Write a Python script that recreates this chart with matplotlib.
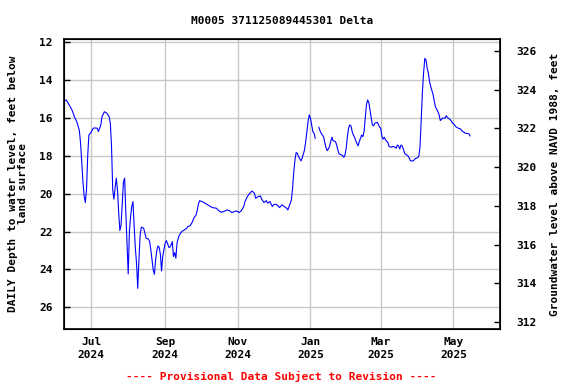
import matplotlib
matplotlib.use("Agg")
import matplotlib.pyplot as plt
import matplotlib.dates as mdates
import numpy as np
import pandas as pd

# ---- data ----
start_date = "2024-07-01"
day_offset = [
    -22, -21, -19, -18, -16, -14, -12, -10, -9, -8, -7, -6, -5, -4, -3, -2,
    0, 1, 2, 5, 6, 8, 9, 11, 13, 15, 16, 17, 18, 19, 20, 21, 22, 23, 24, 25,
    26, 27, 28, 29, 30, 31, 32, 33, 34, 35, 36, 37, 38, 39, 40, 41, 42, 44,
    45, 46, 48, 49, 50, 51, 52, 53, 54, 55, 56, 57, 58, 59, 60, 61, 62, 63,
    64, 65, 66, 67, 68, 69, 70, 71, 72, 73, 74, 76, 78, 80, 81, 83, 85, 86,
    88, 89, 90, 91, 93, 94, 97, 100, 102, 105, 107, 109, 111, 114, 116, 118,
    120, 122, 124, 126, 128, 129, 131, 133, 135, 137, 138, 140, 142, 143, 145,
    147, 148, 150, 152, 153, 155, 157, 158, 160, 162, 164, 165, 166, 168, 169,
    170, 171, 172, 173, 174, 176, 177, 179, 180, 181, 182, 183, 184, 185, 186,
    187, 188, 189, 191, 192, 193, 195, 196, 197, 198, 199, 200, 201, 202, 203,
    205, 206, 207, 208, 210, 211, 212, 213, 214, 215, 216, 217, 218, 219, 220,
    221, 222, 223, 224, 225, 226, 227, 228, 229, 230, 231, 232, 233, 234, 235,
    236, 237, 238, 240, 241, 242, 243, 244, 245, 246, 247, 249, 250, 252, 253,
    254, 256, 257, 258, 259, 260, 261, 262, 263, 264, 266, 267, 268, 270, 271,
    272, 274, 275, 276, 277, 278, 279, 280, 281, 282, 283, 284, 285, 286, 287,
    288, 289, 290, 291, 292, 293, 294, 295, 297, 298, 299, 301, 302, 303, 305,
    306, 308, 310, 311, 312, 314, 315, 317, 318,
]
depth_ft = [
    15.08, 15.05, 15.26, 15.37, 15.61, 15.96, 16.23, 16.67, 17.34, 18.31, 19.36, 20.12, 20.47, 19.80, 18.00, 16.90,
    16.75, 16.60, 16.53, 16.54, 16.72, 16.37, 15.93, 15.67, 15.75, 15.93, 16.28, 17.50, 19.80, 20.29, 19.70, 19.18, 19.80, 21.00, 21.95, 21.65,
    20.50, 19.40, 19.18, 21.00, 22.62, 24.24, 22.00, 21.21, 20.68, 20.42, 21.74, 22.88, 23.67, 25.00, 23.50, 22.20, 21.77, 21.83,
    22.09, 22.35, 22.40, 22.53, 22.97, 23.50, 24.03, 24.26, 23.50, 23.01, 22.76, 22.83, 23.20, 24.08, 23.30, 22.97, 22.62, 22.48,
    22.62, 22.83, 22.83, 22.71, 22.53, 23.32, 23.11, 23.41, 22.60, 22.35, 22.18, 22.00, 21.92, 21.83, 21.74, 21.70, 21.48, 21.30,
    21.12, 20.86, 20.54, 20.37, 20.42, 20.45, 20.56, 20.68, 20.74, 20.77, 20.90, 20.98, 20.95, 20.86, 20.90, 21.00,
    20.95, 20.91, 21.00, 20.90, 20.68, 20.42, 20.16, 19.98, 19.86, 19.98, 20.24, 20.16, 20.12, 20.29, 20.47,
    20.37, 20.50, 20.42, 20.68, 20.59, 20.56, 20.65, 20.74, 20.59, 20.68, 20.77, 20.86, 20.68, 20.33, 19.71,
    18.84, 18.22, 17.83, 17.87, 18.04, 18.27, 18.13, 17.69, 17.25, 16.72, 16.19, 15.84, 16.01, 16.37, 16.72,
    16.81, 17.07, np.nan, 16.49, 16.67, 16.81, 16.99, 17.30, 17.55, 17.73, 17.64, 17.51, 17.25, 17.02, 17.20,
    17.25, 17.43, 17.69, 17.90, 17.95, 17.99, 18.08, 17.95, 17.60, 16.99, 16.54, 16.37, 16.42, 16.72, 16.90,
    17.02, 17.20, 17.34, 17.48, 17.25, 17.07, 16.90, 16.99, 16.72, 16.01, 15.31, 15.05, 15.19, 15.58, 16.01,
    16.37, 16.42, 16.28, 16.23, 16.33, 16.49, 16.54, 16.99, 17.12, 17.02, 17.16, 17.30, 17.51, 17.55, 17.51,
    17.51, 17.60, 17.43, 17.48, 17.64, 17.43, 17.48, 17.65, 17.86, 17.92, 18.01, 18.13, 18.27, 18.27, 18.22,
    18.15, 18.10, 18.01, 17.51, 16.00, 14.61, 13.60, 12.85, 12.94, 13.37, 13.64, 14.08, 14.35, 14.56, 14.78,
    15.14, 15.43, 15.54, 15.67, 15.84, 16.14, 16.07, 16.01, 16.01, 15.88, 15.98, 16.07, 16.14, 16.25, 16.37,
    16.46, 16.54, 16.58, 16.67, 16.72, 16.81, 16.81, 16.84, 16.95,
]
month_ticks = ["2024-07-01", "2024-09-01", "2024-11-01", "2025-01-01", "2025-03-01", "2025-05-01"]
month_labels = ["Jul\n2024", "Sep\n2024", "Nov\n2024", "Jan\n2025", "Mar\n2025", "May\n2025"]
left_ticks = [12, 14, 16, 18, 20, 22, 24, 26]
right_ticks = [312, 314, 316, 318, 320, 322, 324, 326]

title = "M0005 371125089445301 Delta"
left_label = "DAILY Depth to water level, feet below\nland surface"
right_label = "Groundwater level above NAVD 1988, feet"
footer = "---- Provisional Data Subject to Revision ----"

# ---- plot ----
dates = pd.Timestamp(start_date) + pd.to_timedelta(day_offset, unit="D")
mono = "DejaVu Sans Mono"
fs = 8

fig = plt.figure(figsize=(5.76, 3.84), dpi=100)
ax = fig.add_axes([64 / 576, 1 - 329 / 384, (499.5 - 64) / 576, (329 - 39) / 384])

ax.plot(dates, depth_ft, color="#0000ff", linewidth=0.8)

ax.set_xlim(pd.Timestamp(start_date) - pd.Timedelta(days=22.9),
            pd.Timestamp(start_date) + pd.Timedelta(days=342.7))
ax.set_ylim(27.15, 11.83)
ax.set_yticks(left_ticks)
ax.set_yticklabels([str(t) for t in left_ticks], fontfamily=mono, fontweight="bold", fontsize=fs)
ax.set_xticks(pd.to_datetime(month_ticks))
ax.set_xticklabels(month_labels, fontfamily=mono, fontweight="bold", fontsize=fs, linespacing=1.3)
ax.tick_params(axis="x", length=0, pad=6)
ax.tick_params(axis="y", direction="in", length=4, width=1, pad=8)
ax.grid(True, color="#c8c8c8", linewidth=1)
ax.set_axisbelow(True)
for s in ax.spines.values():
    s.set_linewidth(1.2)

ax2 = ax.twinx()
ax2.set_ylim(311.64, 326.62)
ax2.set_yticks(right_ticks)
ax2.set_yticklabels([str(t) for t in right_ticks], fontfamily=mono, fontweight="bold", fontsize=fs)
ax2.tick_params(axis="y", direction="in", length=4, width=1, pad=12)

ax.set_ylabel(left_label, fontfamily=mono, fontweight="bold", fontsize=fs, linespacing=1.0, labelpad=8)
ax2.set_ylabel(right_label, fontfamily=mono, fontweight="bold", fontsize=fs, labelpad=10)

cx = (64 + 499.5) / 2 / 576
fig.text(cx, 1 - 21 / 384, title, ha="center", va="center", fontfamily=mono, fontweight="bold", fontsize=fs)
fig.text(cx, 1 - 376 / 384, footer, ha="center", va="center", fontfamily=mono, fontweight="bold",
         fontsize=fs, color="#ff0000")

fig.savefig("out.png", dpi=100)
